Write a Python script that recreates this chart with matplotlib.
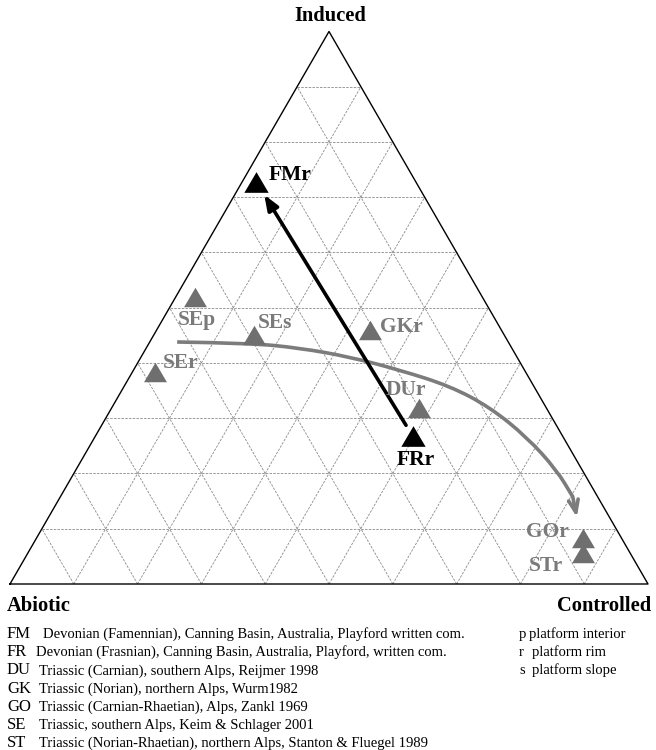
import numpy as np
import matplotlib
matplotlib.use('Agg')
import matplotlib.pyplot as plt
from matplotlib.path import Path
from matplotlib.patches import PathPatch

# Ternary data (percent): Abiotic / Induced / Controlled
samples = ['FMr', 'SEp', 'SEs', 'GKr', 'SEr', 'DUr', 'FRr', 'GOr', 'STr']
abiotic = [25.0, 45.0, 39.2, 20.6, 58.1, 19.9, 23.5, 6.1, 7.4]
induced = [72.8, 52.0, 45.1, 46.0, 38.4, 31.9, 26.8, 8.3, 5.6]
controlled = [2.2, 3.0, 15.7, 33.4, 3.5, 48.2, 49.7, 85.6, 87.0]
age = ['Devonian', 'Triassic', 'Triassic', 'Triassic', 'Triassic',
       'Triassic', 'Devonian', 'Triassic', 'Triassic']

# gray trend curve (Induced / Controlled percent)
trend_induced = [43.8, 43.6, 42.7, 41.1, 38.7, 35.8, 32.0, 26.6, 20.6, 15.8, 12.1]
trend_controlled = [4.3, 15.8, 24.1, 32.7, 41.8, 51.1, 59.2, 67.7, 75.4, 80.3, 82.8]

codes = ['FM', 'FR', 'DU', 'GK', 'GO', 'SE', 'ST']
sources = ['Devonian (Famennian), Canning Basin, Australia, Playford written com.',
           'Devonian (Frasnian), Canning Basin, Australia, Playford, written com.',
           'Triassic (Carnian), southern Alps, Reijmer 1998',
           'Triassic (Norian), northern Alps, Wurm1982',
           'Triassic (Carnian-Rhaetian), Alps, Zankl 1969',
           'Triassic, southern Alps, Keim & Schlager 2001',
           'Triassic (Norian-Rhaetian), northern Alps, Stanton & Fluegel 1989']
setting_codes = ['p', 'r', 's']
settings = ['platform interior', 'platform rim', 'platform slope']

H = np.sqrt(3) / 2
SERIF = 'Liberation Serif'
GRAY = '#6f6f6f'
colors = {'Devonian': 'black', 'Triassic': GRAY}
label_colors = {'Devonian': 'black', 'Triassic': '#7a7a7a'}
# label placement: baseline offset in pixels, horizontal alignment
label_pos = {'FMr': ((12, 2), 'left'), 'SEp': ((2, -28), 'center'),
             'SEs': ((4, 7), 'left'), 'GKr': ((10, -2), 'left'),
             'SEr': ((8, 4), 'left'), 'DUr': ((-13, 13), 'center'),
             'FRr': ((3, -29), 'center'), 'GOr': ((-14, 1), 'right'),
             'STr': ((-20, -18), 'right')}


def to_xy(c, i):
    c = np.asarray(c) / 100.0
    i = np.asarray(i) / 100.0
    return c + i / 2, i * H


fig = plt.figure(figsize=(6.56, 7.5), dpi=100)
ax = fig.add_axes([0, 0, 1, 1])
ax.set_xlim(-10 / 638, 646 / 638)
ax.set_ylim(-166 / 638, 584 / 638)
ax.axis('off')

# dashed grid
for k in range(1, 10):
    f = k / 10
    kw = dict(color='#8a8a8a', lw=0.6, ls=(0, (3, 1.5)), zorder=1)
    ax.plot([f / 2, 1 - f / 2], [f * H, f * H], **kw)
    ax.plot([f, f + (1 - f) / 2], [0, (1 - f) * H], **kw)
    ax.plot([1 - f, (1 - f) / 2], [0, (1 - f) * H], **kw)

ax.plot([0, 1, 0.5, 0], [0, 0, H, 0], color='black', lw=1.0, zorder=2)

# trend curve, drawn as a smooth quadratic path through the read points
tx, ty = to_xy(trend_controlled, trend_induced)
pts = np.column_stack([tx[:-1], ty[:-1]])
verts = [pts[0]]
cmds = [Path.MOVETO]
for k in range(1, len(pts) - 1):
    verts += [pts[k], (pts[k] + pts[k + 1]) / 2]
    cmds += [Path.CURVE3, Path.CURVE3]
verts.append(pts[-1])
cmds.append(Path.LINETO)
ax.add_patch(PathPatch(Path(verts, cmds), fc='none', ec='#7c7c7c', lw=2.6,
                       capstyle='butt', zorder=3))
ax.annotate('', xy=(tx[-1], ty[-1]), xytext=(tx[-2], ty[-2]),
            arrowprops=dict(arrowstyle='->,head_length=0.9,head_width=0.35',
                            color='#7c7c7c', lw=2.6, shrinkA=0, shrinkB=0),
            zorder=3)

# samples
px, py = to_xy(controlled, induced)
tri = [(-1, -0.85), (1, -0.85), (0, 0.85), (-1, -0.85)]
for name, x, y, a in zip(samples, px, py, age):
    ms = 17.5 if a == 'Devonian' else 16.5
    ax.plot(x, y, marker=tri, ms=ms, color=colors[a], mec='none', zorder=5)
    (dx, dy), ha = label_pos[name]
    ax.annotate(name, (x, y), xytext=(dx, dy), textcoords='offset pixels',
                ha=ha, va='baseline', fontsize=15.5, fontweight='bold',
                family=SERIF, color=label_colors[a], zorder=6)

# black arrow FRr -> FMr
i_fr, i_fm = samples.index('FRr'), samples.index('FMr')
ax.annotate('', xy=(px[i_fm], py[i_fm]), xytext=(px[i_fr], py[i_fr]),
            arrowprops=dict(arrowstyle='-|>,head_length=0.9,head_width=0.35',
                            color='black', lw=2.6, shrinkA=9, shrinkB=11),
            zorder=4)


def ftext(x, y, s, **kw):
    fig.text(x / 656, 1 - y / 750, s, family=SERIF, **kw)


# corner titles
ftext(330, 16, 'Induced', ha='center', va='center', fontsize=14.8, fontweight='bold')
ftext(7, 606, 'Abiotic', ha='left', va='center', fontsize=14.8, fontweight='bold')
ftext(651, 606, 'Controlled', ha='right', va='center', fontsize=14.8, fontweight='bold')

# legend
desc_x = [43, 36, 39, 39, 39, 39, 39]
for n, (c, s) in enumerate(zip(codes, sources)):
    y = 638 + n * 18.2
    ftext(7, y, c, ha='left', va='baseline', fontsize=12)
    ftext(desc_x[n], y, s, ha='left', va='baseline', fontsize=10.5)
for n, (c, s) in enumerate(zip(setting_codes, settings)):
    y = 638 + n * 18.2
    ftext(519, y, c, ha='left', va='baseline', fontsize=10.5)
    ftext(529 if c == 'p' else 532, y, s, ha='left', va='baseline', fontsize=10.5)

fig.savefig('out.png', dpi=100)
